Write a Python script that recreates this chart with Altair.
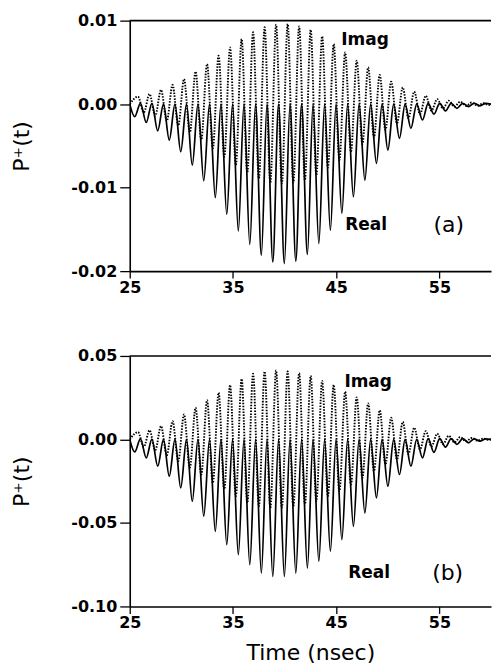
import altair as alt
import pandas as pd

# ---- times of extrema (ns) ----
real_trough_t = [25.48, 26.60, 27.71, 28.83, 29.94, 31.06, 32.17, 33.29, 34.40, 35.52,
                 36.63, 37.75, 38.86, 39.98, 41.09, 42.21, 43.32, 44.44, 45.55, 46.67,
                 47.78, 48.90, 50.01, 51.13, 52.24, 53.36, 54.47, 55.59, 56.70, 57.82, 58.93]
real_peak_t = [25.00, 26.04, 27.15, 28.27, 29.38, 30.50, 31.61, 32.73, 33.84, 34.96, 36.07,
               37.19, 38.30, 39.42, 40.53, 41.65, 42.76, 43.88, 44.99, 46.11, 47.22,
               48.34, 49.45, 50.57, 51.68, 52.80, 53.91, 55.03, 56.14, 57.26, 58.37, 59.49, 60.00]
imag_peak_t = [25.80, 26.92, 28.03, 29.15, 30.26, 31.38, 32.49, 33.61, 34.72, 35.84,
               36.95, 38.07, 39.18, 40.30, 41.41, 42.53, 43.64, 44.76, 45.87, 46.99,
               48.10, 49.22, 50.33, 51.45, 52.56, 53.68, 54.79, 55.91, 57.02, 58.14, 59.25]
imag_trough_t = [25.00, 26.36, 27.47, 28.59, 29.70, 30.82, 31.93, 33.05, 34.16, 35.28, 36.39,
                 37.51, 38.62, 39.74, 40.85, 41.97, 43.08, 44.20, 45.31, 46.43, 47.54,
                 48.66, 49.77, 50.89, 52.00, 53.12, 54.23, 55.35, 56.46, 57.58, 58.69, 59.81, 60.00]

# ---- panel (a) values ----
a_real_trough = [-0.0015, -0.0022, -0.0032, -0.0043, -0.0057, -0.0073, -0.0092, -0.0112, -0.0132, -0.0152,
                 -0.0168, -0.0181, -0.0189, -0.0191, -0.0188, -0.0180, -0.0167, -0.0151, -0.0131, -0.0111,
                 -0.0091, -0.0071, -0.0055, -0.0041, -0.0029, -0.0019, -0.0012, -0.0008, -0.0005, -0.0003, -0.0002]
a_real_peak = [0.0, 0.0001, 0.0001, 0.0, 0.0, 0.0, 0.0, 0.0, 0.0, 0.0, 0.0,
               0.0, 0.0, 0.0, 0.0, 0.0, 0.0, 0.0, 0.0, 0.0, 0.0,
               0.0, 0.0, 0.0, 0.0, 0.0, 0.0001, 0.0001, 0.0001, 0.0001, 0.0001, 0.0001, 0.0]
a_imag_peak = [0.0009, 0.0012, 0.0017, 0.0023, 0.0030, 0.0039, 0.0048, 0.0058, 0.0068, 0.0078,
               0.0086, 0.0092, 0.0095, 0.0096, 0.0093, 0.0089, 0.0081, 0.0072, 0.0062, 0.0052,
               0.0044, 0.0035, 0.0027, 0.0020, 0.0015, 0.0010, 0.0006, 0.0004, 0.0003, 0.0002, 0.0001]
a_imag_trough = [0.0, -0.0010, -0.0014, -0.0020, -0.0026, -0.0034, -0.0043, -0.0053, -0.0063, -0.0073,
                 -0.0082, -0.0089, -0.0094, -0.0095, -0.0094, -0.0091, -0.0085, -0.0076, -0.0067, -0.0057,
                 -0.0048, -0.0040, -0.0031, -0.0023, -0.0017, -0.0012, -0.0008, -0.0005, -0.0003, -0.0002,
                 -0.0002, -0.0001, 0.0]

# ---- panel (b) values ----
b_real_trough = [-0.0075, -0.0110, -0.0160, -0.0220, -0.0290, -0.0370, -0.0460, -0.0550, -0.0630, -0.0690,
                 -0.0750, -0.0800, -0.0820, -0.0820, -0.0800, -0.0770, -0.0730, -0.0670, -0.0600, -0.0520,
                 -0.0440, -0.0350, -0.0280, -0.0210, -0.0160, -0.0110, -0.0077, -0.0046, -0.0030, -0.0020, -0.0010]
b_real_peak = [0.0, 0.0003, 0.0002, 0.0, 0.0, 0.0, 0.0, 0.0, 0.0, 0.0, 0.0,
               0.0, 0.0, 0.0, 0.0, 0.0, 0.0, 0.0, 0.0, 0.0, 0.0,
               0.0, 0.0, 0.0, 0.0, 0.0, 0.0005, 0.0005, 0.0005, 0.0005, 0.0004, 0.0004, 0.0]
b_imag_peak = [0.0044, 0.0055, 0.0080, 0.0110, 0.0150, 0.0190, 0.0235, 0.0280, 0.0325, 0.0362,
               0.0393, 0.0407, 0.0413, 0.0407, 0.0397, 0.0381, 0.0351, 0.0327, 0.0286, 0.0252,
               0.0216, 0.0175, 0.0130, 0.0105, 0.0070, 0.0050, 0.0034, 0.0022, 0.0014, 0.0009, 0.0005]
b_imag_trough = [0.0, -0.0045, -0.0065, -0.0095, -0.0130, -0.0170, -0.0210, -0.0260, -0.0300, -0.0340,
                 -0.0380, -0.0400, -0.0410, -0.0410, -0.0400, -0.0390, -0.0370, -0.0340, -0.0310, -0.0270,
                 -0.0230, -0.0190, -0.0150, -0.0120, -0.0088, -0.0060, -0.0042, -0.0028, -0.0018, -0.0011,
                 -0.0007, -0.0003, 0.0]

# ---- annotation labels ----
a_names = {"text": ["Imag", "Real"], "x": [47.8, 47.9], "y": [0.0077, -0.0145]}
a_tag = {"text": ["(a)"], "x": [55.9], "y": [-0.0145]}
b_names = {"text": ["Imag", "Real"], "x": [48.1, 48.2], "y": [0.0345, -0.0800]}
b_tag = {"text": ["(b)"], "x": [55.8], "y": [-0.0800]}

FONT = "DejaVu Sans"
W, H = 362, 251


def panel(rt, rp, ip, it, names, tag, ydom, yticks, xtitle):
    real = pd.DataFrame({"t": real_trough_t + real_peak_t, "v": rt + rp}).sort_values("t")
    imag = pd.DataFrame({"t": imag_peak_t + imag_trough_t, "v": ip + it}).sort_values("t")
    xs = alt.Scale(domain=[25, 60], nice=False, zero=False)
    ys = alt.Scale(domain=ydom, nice=False, zero=False)
    xaxis = alt.Axis(values=[25, 35, 45, 55], title=xtitle, grid=False, tickSize=7,
                     labelFlush=False,
                     labelFont=FONT, labelFontSize=16, labelFontWeight="bold", labelColor="black",
                     labelPadding=1, titleFont=FONT, titleFontSize=22, titleFontWeight="normal",
                     titleColor="black", titlePadding=12, domainColor="black", tickColor="black",
                     domainWidth=1.6, tickWidth=1.3)
    yaxis = alt.Axis(values=yticks, title="P\u207a(t)", grid=False, tickSize=10,
                     labelFlush=False,
                     labelExpr="replace(format(datum.value, '.2f'), '\u2212', '-')",
                     labelFont=FONT, labelFontSize=16, labelFontWeight="bold", labelColor="black",
                     labelPadding=3, titleFont=FONT, titleFontSize=22, titleFontWeight="normal",
                     titleColor="black", titlePadding=37, domainColor="black", tickColor="black",
                     domainWidth=1.6, tickWidth=1.3)
    real_line = alt.Chart(real).mark_line(color="black", strokeWidth=1.7, interpolate="monotone",
                                          clip=True).encode(
        x=alt.X("t:Q", scale=xs, axis=xaxis), y=alt.Y("v:Q", scale=ys, axis=yaxis))
    imag_line = alt.Chart(imag).mark_line(color="black", strokeWidth=1.9, strokeDash=[1.5, 1.4],
                                          interpolate="monotone", clip=True).encode(
        x=alt.X("t:Q", scale=xs), y=alt.Y("v:Q", scale=ys))
    name_text = alt.Chart(pd.DataFrame(names)).mark_text(
        font=FONT, fontSize=17, fontWeight="bold", color="black").encode(
        x=alt.X("x:Q", scale=xs), y=alt.Y("y:Q", scale=ys), text="text:N")
    tag_text = alt.Chart(pd.DataFrame(tag)).mark_text(
        font=FONT, fontSize=22, fontWeight="normal", color="black").encode(
        x=alt.X("x:Q", scale=xs), y=alt.Y("y:Q", scale=ys), text="text:N")
    top = alt.Chart(pd.DataFrame({"y": [ydom[1]]})).mark_rule(color="black", strokeWidth=1.6).encode(
        y=alt.Y("y:Q", scale=ys))
    return alt.layer(real_line, imag_line, name_text, tag_text, top).properties(width=W, height=H)


pa = panel(a_real_trough, a_real_peak, a_imag_peak, a_imag_trough, a_names, a_tag,
           [-0.02, 0.01], [-0.02, -0.01, 0.0, 0.01], None)
pb = panel(b_real_trough, b_real_peak, b_imag_peak, b_imag_trough, b_names, b_tag,
           [-0.10, 0.05], [-0.10, -0.05, 0.0, 0.05], "Time (nsec)")

chart = alt.vconcat(pa, pb, spacing=53).configure_view(stroke=None).properties(
    padding={"left": 10, "top": 12, "right": 0, "bottom": 0}, background="white")

chart.save("out.html", embed_options={"renderer": "svg", "actions": False})
